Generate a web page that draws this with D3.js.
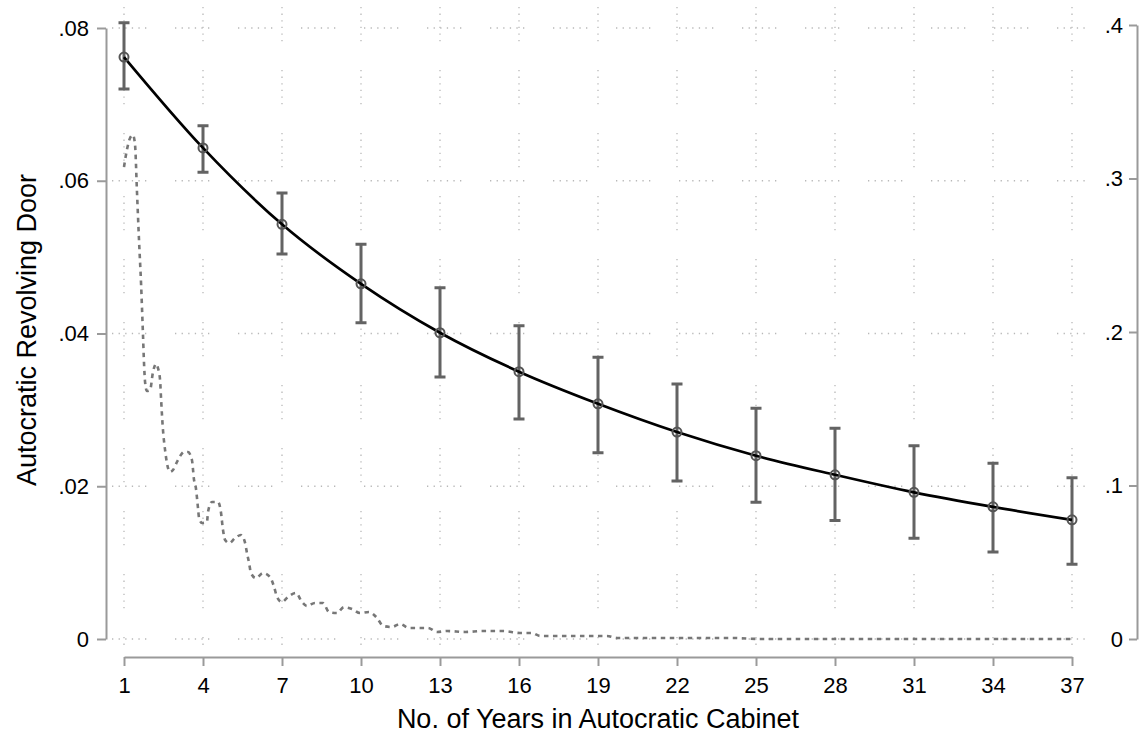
<!DOCTYPE html>
<html>
<head>
<meta charset="utf-8">
<script src="https://cdn.jsdelivr.net/npm/d3@7"></script>
<style>
  body { margin: 0; background: #fff; }
  text { font-family: "Liberation Sans", Arial, sans-serif; fill: #000; }
</style>
</head>
<body>
<div id="chart"></div>
<script>
// marginal effect estimates at each marker year
const years = [1, 4, 7, 10, 13, 16, 19, 22, 25, 28, 31, 34, 37];
const estimate = [0.0762, 0.0643, 0.0543, 0.0465, 0.0401, 0.0350, 0.0308, 0.0271, 0.0240, 0.0215, 0.0192, 0.0173, 0.0156];
const ciLow = [0.0720, 0.0611, 0.0504, 0.0414, 0.0343, 0.0288, 0.0244, 0.0207, 0.0179, 0.0155, 0.0132, 0.0114, 0.0098];
const ciHigh = [0.0807, 0.0672, 0.0584, 0.0517, 0.0460, 0.0410, 0.0369, 0.0334, 0.0302, 0.0276, 0.0253, 0.0230, 0.0211];

// density of years in cabinet (right axis)
const densYear = [1.0, 1.11, 1.23, 1.34, 1.42, 1.49, 1.57, 1.65, 1.72, 1.76, 1.80, 1.87, 1.99, 2.10, 2.22, 2.29, 2.37, 2.41, 2.48, 2.56, 2.63, 2.75, 2.86, 3.01, 3.16, 3.28, 3.43, 3.58, 3.66, 3.73, 3.81, 3.85, 3.96, 4.15, 4.19, 4.34, 4.57, 4.68, 4.76, 4.84, 4.99, 5.22, 5.44, 5.60, 5.67, 5.75, 5.82, 6.01, 6.28, 6.54, 6.70, 6.81, 7.00, 7.23, 7.53, 7.76, 7.95, 8.25, 8.56, 8.78, 9.09, 9.35, 9.66, 9.96, 10.30, 10.61, 10.84, 11.18, 11.48, 11.82, 12.54, 12.89, 13.27, 13.95, 14.63, 15.39, 16.04, 16.49, 16.80, 19.34, 19.72, 24.13, 25.15, 37];
const densValue = [0.3075, 0.3186, 0.3264, 0.3283, 0.3218, 0.2925, 0.2599, 0.2306, 0.1987, 0.1798, 0.1674, 0.1616, 0.1622, 0.1739, 0.1792, 0.1765, 0.1687, 0.1557, 0.1362, 0.1231, 0.1147, 0.1088, 0.1101, 0.1153, 0.1199, 0.1218, 0.1218, 0.1166, 0.1036, 0.0984, 0.0853, 0.0788, 0.0756, 0.0762, 0.0827, 0.0893, 0.0893, 0.0827, 0.0710, 0.0645, 0.0625, 0.0658, 0.0678, 0.0625, 0.0560, 0.0495, 0.0430, 0.0397, 0.0430, 0.0404, 0.0339, 0.0274, 0.0241, 0.0274, 0.0300, 0.0241, 0.0215, 0.0235, 0.0235, 0.0176, 0.0169, 0.0208, 0.0195, 0.0169, 0.0176, 0.0137, 0.0085, 0.0078, 0.0098, 0.0072, 0.0072, 0.0046, 0.0052, 0.0046, 0.0052, 0.0052, 0.0039, 0.0039, 0.0020, 0.0020, 0.0007, 0.0007, 0, 0];

const leftTicks = [0, 0.02, 0.04, 0.06, 0.08];
const rightTicks = [0, 0.1, 0.2, 0.3, 0.4];
const xTicks = years;

const width = 1140, height = 735;

const svg = d3.select("#chart")
  .append("svg")
  .attr("width", width)
  .attr("height", height);

// scales
var x = d3.scaleLinear().domain([1, 37]).range([124, 1072]);
var yL = d3.scaleLinear().domain([0, 0.08]).range([639, 28]);
var yR = d3.scaleLinear().domain([0, 0.4]).range([639, 25]);

const fmt = d => d === 0 ? "0" : d3.format(".2~f")(d).replace(/^0/, "");
const gridDash = "1.3,5.3,1.3,5.3,1.3,5.3,1.3,5.3,1.3,5.3,1.3,28.7";

// grid
const grid = svg.append("g")
  .attr("stroke", "#b8b8b8")
  .attr("stroke-width", 1.3)
  .attr("stroke-dasharray", gridDash);

grid.selectAll(".hgrid")
  .data(leftTicks)
  .enter()
  .append("line")
  .attr("x1", 112)
  .attr("x2", 1087)
  .attr("y1", d => yL(d))
  .attr("y2", d => yL(d));

grid.selectAll(".vgrid")
  .data(xTicks)
  .enter()
  .append("line")
  .attr("x1", d => x(d))
  .attr("x2", d => x(d))
  .attr("y1", 7)
  .attr("y2", 650);

// density line, dashed
const densData = densYear.map((d, i) => ({year: d, value: densValue[i]}));
svg.append("path")
  .datum(densData)
  .attr("fill", "none")
  .attr("stroke", "#777")
  .attr("stroke-width", 2.6)
  .attr("stroke-dasharray", "4.5,4.5")
  .attr("d", d3.line()
    .x(d => x(d.year))
    .y(d => yR(d.value))
    .curve(d3.curveMonotoneX));

// error bars
const est = years.map((d, i) => ({year: d, value: estimate[i], lo: ciLow[i], hi: ciHigh[i]}));
const bars = svg.append("g")
  .attr("stroke", "#636363")
  .attr("stroke-width", 3)
  .attr("fill", "none");

bars.selectAll(".bar")
  .data(est)
  .enter()
  .append("path")
  .attr("d", d => {
    const cx = x(d.year), t = yL(d.hi), b = yL(d.lo);
    return `M${cx - 5.5},${t}H${cx + 5.5}M${cx},${t}V${b}M${cx - 5.5},${b}H${cx + 5.5}`;
  });

// main line
svg.append("path")
  .datum(est)
  .attr("fill", "none")
  .attr("stroke", "#000")
  .attr("stroke-width", 2.7)
  .attr("d", d3.line()
    .x(d => x(d.year))
    .y(d => yL(d.value))
    .curve(d3.curveMonotoneX));

svg.selectAll(".marker")
  .data(est)
  .enter()
  .append("circle")
  .attr("cx", d => x(d.year))
  .attr("cy", d => yL(d.value))
  .attr("r", 4.5)
  .attr("fill", "none")
  .attr("stroke", "#555")
  .attr("stroke-width", 2);

// axes
function styleAxis(g) {
  g.selectAll(".domain").attr("stroke", "#9a9a9a").attr("stroke-width", 2);
  g.selectAll(".tick line").attr("stroke", "#9a9a9a").attr("stroke-width", 2);
  g.selectAll(".tick text")
    .style("font-family", '"Liberation Sans", Arial, sans-serif')
    .style("font-size", "22px")
    .attr("fill", "#000");
}

svg.append("g")
  .attr("transform", "translate(106,0)")
  .call(d3.axisLeft(yL).tickValues(leftTicks).tickFormat(fmt).tickSize(9).tickSizeOuter(0).tickPadding(8))
  .call(styleAxis);

svg.append("g")
  .attr("transform", "translate(1137,0)")
  .call(d3.axisLeft(yR).tickValues(rightTicks).tickFormat(fmt).tickSize(8).tickSizeOuter(0).tickPadding(6))
  .call(styleAxis);

svg.append("g")
  .attr("transform", "translate(0,657)")
  .call(d3.axisBottom(x).tickValues(xTicks).tickFormat(d3.format("d")).tickSize(9).tickSizeOuter(0).tickPadding(11))
  .call(styleAxis);

// titles
svg.append("text")
  .attr("x", 598)
  .attr("y", 728)
  .attr("text-anchor", "middle")
  .style("font-size", "27px")
  .text("No. of Years in Autocratic Cabinet");

svg.append("text")
  .attr("transform", "translate(36,330) rotate(-90)")
  .attr("text-anchor", "middle")
  .style("font-size", "27px")
  .text("Autocratic Revolving Door");
</script>
</body>
</html>
